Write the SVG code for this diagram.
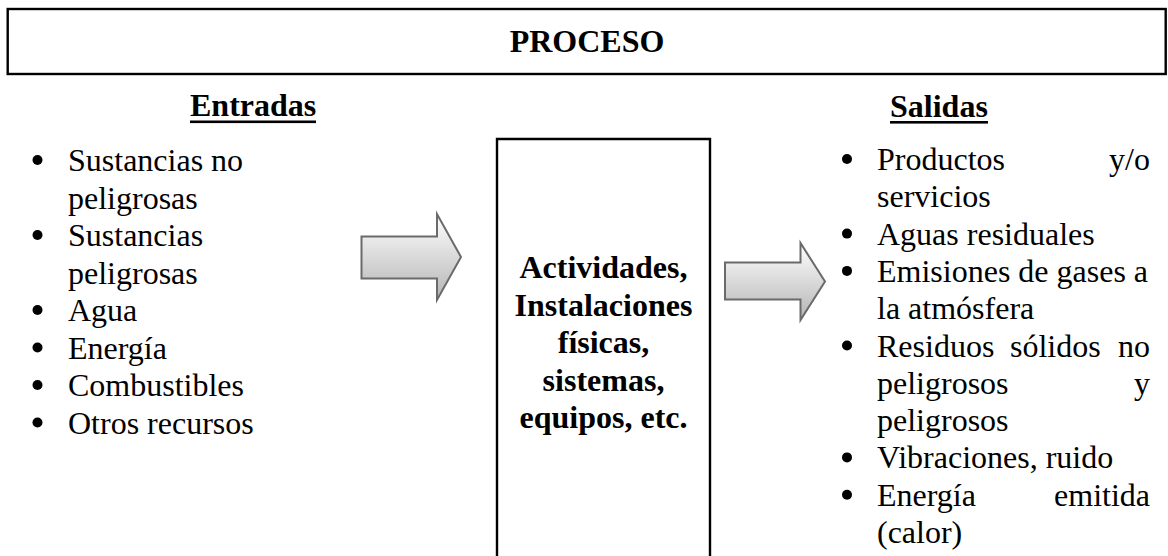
<svg xmlns="http://www.w3.org/2000/svg" width="1168" height="556" viewBox="0 0 1168 556">
  <style>
    .t { font-family: "Liberation Serif", "Times New Roman", serif; font-size: 32px; fill: #000; }
    .b { font-weight: bold; }
    .c { text-anchor: middle; }
    .e { text-anchor: end; }
    .box { fill: none; stroke: #000; stroke-width: 2.4; }
    .arrow { fill: url(#ag); stroke: #6a6a6a; stroke-width: 2; stroke-linejoin: miter; }
    .dot { fill: #000; }
  </style>
  <defs>
    <linearGradient id="ag" x1="0" y1="0" x2="0" y2="1">
      <stop offset="0" stop-color="#ffffff"/>
      <stop offset="1" stop-color="#b4b4b4"/>
    </linearGradient>
  </defs>
  <rect width="1168" height="556" fill="#fff"/>

  <g id="proceso">
    <rect class="box" x="7.7" y="9" width="1158" height="65"/>
    <text class="t b c" x="587" y="52">PROCESO</text>
  </g>

  <g id="entradas">
    <text class="t b" x="190" y="116">Entradas</text>
    <rect x="190" y="120.5" width="126" height="2.6" fill="#000"/>
    <circle class="dot" cx="37.5" cy="160" r="5"/>
    <text class="t" x="68" y="171">Sustancias no</text>
    <text class="t" x="68" y="208.5">peligrosas</text>
    <circle class="dot" cx="37.5" cy="235" r="5"/>
    <text class="t" x="68" y="246">Sustancias</text>
    <text class="t" x="68" y="283.5">peligrosas</text>
    <circle class="dot" cx="37.5" cy="310" r="5"/>
    <text class="t" x="68" y="321">Agua</text>
    <circle class="dot" cx="37.5" cy="347.5" r="5"/>
    <text class="t" x="68" y="358.5">Energía</text>
    <circle class="dot" cx="37.5" cy="385" r="5"/>
    <text class="t" x="68" y="396">Combustibles</text>
    <circle class="dot" cx="37.5" cy="422.5" r="5"/>
    <text class="t" x="68" y="433.5">Otros recursos</text>
  </g>

  <g id="actividades">
    <path class="box" d="M497,560 V139 H710 V560"/>
    <text class="t b c" x="603.5" y="278">Actividades,</text>
    <text class="t b c" x="603.5" y="315.5">Instalaciones</text>
    <text class="t b c" x="603.5" y="353">físicas,</text>
    <text class="t b c" x="603.5" y="390.5">sistemas,</text>
    <text class="t b c" x="603.5" y="428">equipos, etc.</text>
  </g>

  <g id="salidas">
    <text class="t b" x="890" y="117">Salidas</text>
    <rect x="890" y="121" width="98" height="2.6" fill="#000"/>
    <circle class="dot" cx="847" cy="159" r="5"/>
    <text class="t" x="877" y="170">Productos</text>
    <text class="t e" x="1150" y="170">y/o</text>
    <text class="t" x="877" y="207.3">servicios</text>
    <circle class="dot" cx="847" cy="233.6" r="5"/>
    <text class="t" x="877" y="244.6">Aguas residuales</text>
    <circle class="dot" cx="847" cy="270.9" r="5"/>
    <text class="t" x="877" y="281.9">Emisiones de gases a</text>
    <text class="t" x="877" y="319.2">la atmósfera</text>
    <circle class="dot" cx="847" cy="345.5" r="5"/>
    <text class="t" x="877" y="356.5">Residuos</text>
    <text class="t" x="1010" y="356.5">sólidos</text>
    <text class="t e" x="1150" y="356.5">no</text>
    <text class="t" x="877" y="393.8">peligrosos</text>
    <text class="t e" x="1150" y="393.8">y</text>
    <text class="t" x="877" y="431.1">peligrosos</text>
    <circle class="dot" cx="847" cy="457.4" r="5"/>
    <text class="t" x="877" y="468.4">Vibraciones, ruido</text>
    <circle class="dot" cx="847" cy="494.7" r="5"/>
    <text class="t" x="877" y="505.7">Energía</text>
    <text class="t e" x="1150" y="505.7">emitida</text>
    <text class="t" x="877" y="543">(calor)</text>
  </g>

  <g id="connectors">
    <path class="arrow" d="M361.5,236.5 H437 V214 L461,257 L437,300 V278.5 H361.5 Z"/>
    <path class="arrow" d="M725,262.5 H800.5 V243 L825,281.5 L800.5,320 V299.5 H725 Z"/>
  </g>
</svg>
